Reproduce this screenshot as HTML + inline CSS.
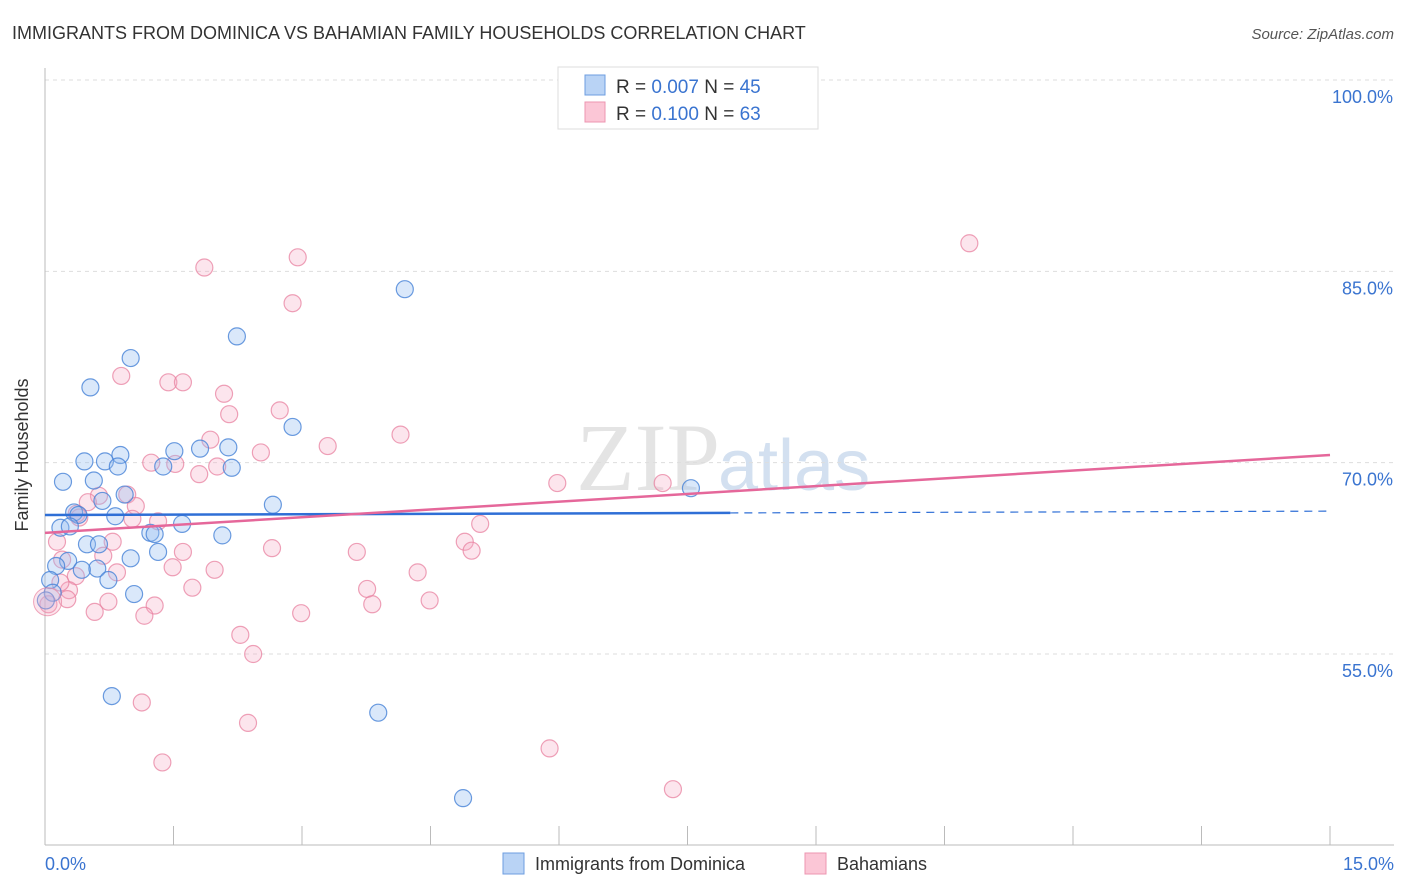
<!DOCTYPE html>
<html><head><meta charset="utf-8"><style>
body{margin:0;background:#fff;font-family:"Liberation Sans",sans-serif;}
svg{display:block}
</style></head><body>
<svg id="chart" width="1406" height="892" xmlns="http://www.w3.org/2000/svg">
<text x="12" y="39" font-size="18" fill="#333">IMMIGRANTS FROM DOMINICA VS BAHAMIAN FAMILY HOUSEHOLDS CORRELATION CHART</text>
<text x="1394" y="39" font-size="15" fill="#555" font-style="italic" text-anchor="end">Source: ZipAtlas.com</text>
<text x="720" y="490" font-size="96" fill="#e4e4e4" text-anchor="end" font-family="Liberation Serif,serif">ZIP</text>
<text x="718" y="490" font-size="72" fill="#d3e0f0">atlas</text>
<g id="grid"></g>
<g id="axes"></g>
<g id="pts"></g>
<g id="trend"></g>
<text x="28" y="455" font-size="18" fill="#333" text-anchor="middle" transform="rotate(-90 28 455)">Family Households</text>
<text x="45" y="870" font-size="18" fill="#3a74d0">0.0%</text>
<text x="1394" y="870" font-size="18" fill="#3a74d0" text-anchor="end">15.0%</text>
<g>
<rect x="558" y="67" width="260" height="62" fill="#fff" stroke="#ddd"/>
<rect x="585" y="75" width="20" height="20" fill="#b9d3f5" stroke="#6d9ee0"/>
<rect x="585" y="102" width="20" height="20" fill="#fbc6d6" stroke="#ec95b0"/>
<text x="616" y="93" font-size="19" fill="#333">R = <tspan fill="#3a74d0">0.007</tspan>   N = <tspan fill="#3a74d0">45</tspan></text>
<text x="616" y="120" font-size="19" fill="#333">R =  <tspan fill="#3a74d0">0.100</tspan>   N = <tspan fill="#3a74d0">63</tspan></text>
</g>
<g>
<rect x="503" y="853" width="21" height="21" fill="#b9d3f5" stroke="#6d9ee0"/>
<text x="535" y="870" font-size="18" fill="#333">Immigrants from Dominica</text>
<rect x="805" y="853" width="21" height="21" fill="#fbc6d6" stroke="#ec95b0"/>
<text x="837" y="870" font-size="18" fill="#333">Bahamians</text>
</g>
</svg>
<script>
const yTicks=[55,70,85,100];
const xTicks=[0,1.5,3,4.5,6,7.5,9,10.5,12,13.5,15];
const blueX=[0.53,1.0,2.24,4.2,2.89,0.88,1.51,1.81,2.14,0.21,0.46,0.7,0.85,1.38,2.18,0.57,0.93,0.67,0.34,0.39,0.82,1.6,2.66,7.54,0.18,0.29,1.23,1.28,2.07,0.49,0.63,1.32,1.0,0.27,0.13,0.61,0.43,0.74,0.06,0.09,1.04,0.01,0.78,3.89,4.88];
const blueY=[75.9,78.2,79.9,83.6,72.8,70.6,70.9,71.1,71.2,68.5,70.1,70.1,69.7,69.7,69.6,68.6,67.5,67.0,66.1,65.9,65.8,65.2,66.7,68.0,64.9,65.0,64.5,64.4,64.3,63.6,63.6,63.0,62.5,62.3,61.9,61.7,61.6,60.8,60.8,59.8,59.7,59.2,51.7,50.4,43.7];
const pinkX=[10.79,2.95,1.86,2.89,0.89,1.44,1.61,2.09,2.15,2.74,4.15,1.93,3.3,2.52,1.24,1.52,2.01,1.8,5.98,7.21,0.96,0.63,0.5,1.06,0.37,0.4,1.02,1.32,5.08,0.14,4.9,0.79,1.61,2.65,3.64,4.98,0.68,1.49,1.98,0.84,4.35,0.36,3.76,1.72,0.28,0.74,0.26,3.82,4.49,1.28,0.58,2.99,1.16,0.04,2.28,2.43,1.13,2.37,5.89,1.37,7.33,0.2,0.18];
const pinkY=[87.2,86.1,85.3,82.5,76.8,76.3,76.3,75.4,73.8,74.1,72.2,71.8,71.3,70.8,70.0,69.9,69.7,69.1,68.4,68.4,67.5,67.4,66.9,66.6,66.0,65.7,65.6,65.4,65.2,63.8,63.8,63.8,63.0,63.3,63.0,63.1,62.7,61.8,61.6,61.4,61.4,61.1,60.1,60.2,60.0,59.1,59.3,58.9,59.2,58.8,58.3,58.2,58.0,58.9,56.5,55.0,51.2,49.6,47.6,46.5,44.4,62.4,60.6];
const blueTrend=[65.9,66.2];
const pinkTrend=[64.5,70.6];
const NS="http://www.w3.org/2000/svg";
const X0=45,X1=1330,Ytop=80,Ybot=845;
function sx(v){return X0+(v/15)*(X1-X0);}
function sy(v){return Ytop+(100-v)*(654-80)/45;}
function mk(t,a,p){const e=document.createElementNS(NS,t);for(const k in a)e.setAttribute(k,a[k]);p.appendChild(e);return e;}
const grid=document.getElementById('grid'),axes=document.getElementById('axes'),pts=document.getElementById('pts'),tr=document.getElementById('trend');
yTicks.forEach(v=>{
  const l=mk('line',{x1:X0,x2:1394,y1:sy(v),y2:sy(v),stroke:'#ddd','stroke-dasharray':'4,4'},grid);
  
  
  const t=mk('text',{x:1393,y:sy(v)+23,'font-size':18,fill:'#3a74d0','text-anchor':'end'},grid);
  t.textContent=v.toFixed(1)+'%';
  
  
});
const ya=mk('line',{x1:X0,x2:X0,y1:68,y2:Ybot,stroke:'#bbb'},axes);


const xa=mk('line',{x1:X0,x2:1394,y1:Ybot,y2:Ybot,stroke:'#bbb'},axes);


xTicks.forEach(v=>{
  const l=mk('line',{x1:sx(v),x2:sx(v),y1:826,y2:Ybot,stroke:'#bbb'},axes);
  
  
});
pinkX.forEach((v,i)=>{
  const c=mk('circle',{cx:sx(v),cy:sy(pinkY[i]),r:8.5,fill:'rgba(246,170,195,0.3)',stroke:'rgba(232,130,160,0.75)','stroke-width':1.2},pts);
  
  
});
blueX.forEach((v,i)=>{
  const c=mk('circle',{cx:sx(v),cy:sy(blueY[i]),r:8.5,fill:'rgba(150,190,240,0.35)',stroke:'rgba(70,130,215,0.8)','stroke-width':1.2},pts);
  
  
});
const big=mk('circle',{cx:sx(0.03),cy:sy(59.1),r:14,fill:'rgba(246,170,195,0.3)',stroke:'rgba(232,130,160,0.7)'},pts);


const bEnd=8.0;
const bMid=blueTrend[0]+(blueTrend[1]-blueTrend[0])*bEnd/15;
const b1=mk('line',{x1:sx(0),y1:sy(blueTrend[0]),x2:sx(bEnd),y2:sy(bMid),stroke:'#2f6fd6','stroke-width':2.5},tr);


const b2=mk('line',{x1:sx(bEnd),y1:sy(bMid),x2:sx(15),y2:sy(blueTrend[1]),stroke:'#2f6fd6','stroke-width':1.2,'stroke-dasharray':'8,6'},tr);


const p1=mk('line',{x1:sx(0),y1:sy(pinkTrend[0]),x2:sx(15),y2:sy(pinkTrend[1]),stroke:'#e5679a','stroke-width':2.5},tr);


</script>
</body></html>
